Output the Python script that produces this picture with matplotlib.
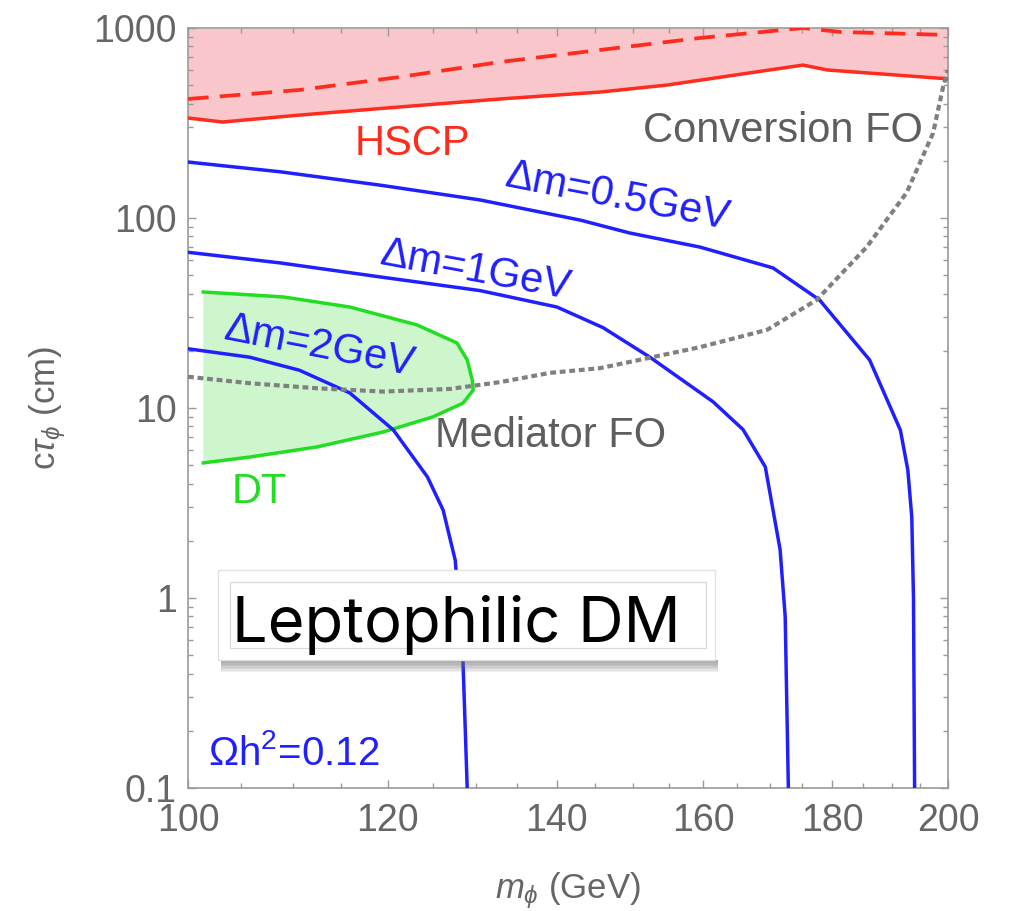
import matplotlib
matplotlib.use("Agg")
import matplotlib.pyplot as plt
from matplotlib.patches import Rectangle
from matplotlib.ticker import FixedLocator, FixedFormatter, NullFormatter

plt.rcParams['font.family'] = ['Liberation Sans', 'DejaVu Sans']
plt.rcParams['mathtext.fontset'] = 'custom'
plt.rcParams['mathtext.rm'] = 'Liberation Sans'
plt.rcParams['mathtext.it'] = 'Liberation Sans:italic'

# ---------------- data ----------------
hscp_x = [100, 103.2, 110.7, 121.3, 132.9, 145.6, 154.8, 175.2, 179.2, 200]
hscp_solid = [336, 320, 348, 384, 423, 460, 501, 638, 601, 540]
hscp_dash_x = [100, 110.7, 121.3, 132.9, 145.6, 159.5, 175.2, 181.3, 200]
hscp_dash = [423, 472, 552, 662, 766, 886, 1000, 953, 919]

dm05_x = [100, 108.8, 119.1, 130.5, 143.0, 149.6, 159.5, 170.5, 177.9, 186.2, 191.5, 192.8, 193.5, 193.8, 194.0]
dm05_y = [197, 175, 149, 124.5, 97.5, 83.4, 70.3, 54.6, 37, 17.9, 7.65, 4.72, 2.67, 1.0, 0.1]

dm1_x = [100, 108.8, 119.1, 130.5, 140.0, 146.0, 152.4, 161.4, 165.9, 169.3, 171.6, 172.4, 172.9]
dm1_y = [66, 58, 49, 41.5, 34, 26.5, 18.5, 10.8, 7.7, 4.9, 1.8, 0.8, 0.1]

dm2_x = [100, 105.8, 110.7, 115.9, 120.6, 124.4, 126.2, 127.6, 128.5, 129.0]
dm2_y = [20.5, 18.5, 15.8, 12.0, 7.66, 4.34, 2.9, 1.58, 0.47, 0.1]

dt_x = [101.4, 109.1, 115.9, 123.2, 127.8, 129.0, 129.6, 129.7, 128.5, 125.0, 119.5, 112.5, 105.8, 101.4]
dt_y = [40.8, 38.4, 34.0, 27.4, 22.0, 17.9, 14.0, 12.4, 10.6, 8.97, 7.48, 6.24, 5.52, 5.14]

fo_x = [100, 105.8, 112.5, 119.5, 127.0, 133.0, 139.1, 145.6, 159.5, 169.6, 177.4, 185.7, 192.6, 197.3, 199.1, 200]
fo_y = [14.6, 13.5, 12.7, 12.2, 12.6, 13.7, 15.3, 16.2, 20.9, 25.8, 37, 70.3, 136, 280, 489, 600]

x_ticks = [100, 120, 140, 160, 180, 200]
x_minor = [105, 110, 115, 125, 130, 135, 145, 150, 155, 165, 170, 175, 185, 190, 195]
y_ticks = [0.1, 1, 10, 100, 1000]
y_labels = ['0.1', '1', '10', '100', '1000']

# ---------------- colours ----------------
RED = '#ff2b1c'
PINK = '#f9c6cb'
BLUE = '#1f1fff'
GREEN = '#22dd22'
LGREEN = '#cdf6cd'
GRAYD = '#808080'
TXT = '#666666'

fig = plt.figure(figsize=(10.1, 9.11), dpi=100)
ax = fig.add_axes([0.18614, 0.13502, 0.75248, 0.83425])
ax.set_xscale('log')
ax.set_yscale('log')
ax.set_xlim(100, 200)
ax.set_ylim(0.1, 1000)

# HSCP region
ax.fill_between(hscp_x, hscp_solid, 1000, color=PINK, lw=0, zorder=1)
ax.plot(hscp_x, hscp_solid, color=RED, lw=2.5, zorder=3, solid_joinstyle='round')
ax.plot(hscp_dash_x, hscp_dash, color=RED, lw=2.7, dashes=(5.5, 3.0), zorder=3)

# DT region
ax.fill(dt_x, dt_y, color=LGREEN, lw=0, zorder=1)
ax.plot(dt_x, dt_y, color=GREEN, lw=2.5, zorder=3, solid_joinstyle='round')

# relic lines
for xs, ys in [(dm05_x, dm05_y), (dm1_x, dm1_y), (dm2_x, dm2_y)]:
    ax.plot(xs, ys, color=BLUE, lw=2.5, zorder=4, solid_joinstyle='round')

# freeze-out line
ax.plot(fo_x, fo_y, color=GRAYD, lw=3.0, dashes=(1.4, 0.9), zorder=4)

# axes styling
for s in ax.spines.values():
    s.set_color('#9a9a9a')
    s.set_linewidth(1.2)
ax.xaxis.set_major_locator(FixedLocator(x_ticks))
ax.xaxis.set_major_formatter(FixedFormatter([str(v) for v in x_ticks]))
ax.xaxis.set_minor_locator(FixedLocator(x_minor))
ax.xaxis.set_minor_formatter(NullFormatter())
ax.yaxis.set_major_locator(FixedLocator(y_ticks))
ax.yaxis.set_major_formatter(FixedFormatter(y_labels))
ax.tick_params(which='both', direction='in', top=True, right=True, color='#9a9a9a',
               width=1.0, labelcolor=TXT, labelsize=27)
ax.tick_params(which='major', length=6)
ax.tick_params(which='minor', length=3.8)
ax.tick_params(axis='x', pad=11)
ax.tick_params(axis='y', pad=8)

ax.set_xlabel(r'$m_{\phi}$ (GeV)', fontsize=25, color=TXT)
ax.set_ylabel(r'c$\tau_{\phi}$ (cm)', fontsize=25, color=TXT)
ax.xaxis.set_label_coords(0.5, -0.108)
ax.yaxis.set_label_coords(-0.158, 0.5)

# annotations
T = ax.transAxes
ax.text(0.2947, 0.8329, 'HSCP', color=RED, fontsize=30, ha='center', va='baseline', transform=T, zorder=6)
ax.text(0.7829, 0.85, 'Conversion FO', color='#5e5e5e', fontsize=30, ha='center', va='baseline', transform=T, zorder=6)
ax.text(0.3250, 0.4487, 'Mediator FO', color='#5e5e5e', fontsize=30, ha='left', va='baseline', transform=T, zorder=6)
ax.text(0.0579, 0.375, 'DT', color=GREEN, fontsize=30, ha='left', va='baseline', transform=T, zorder=6)
ax.text(0.5658, 0.7776, 'Δm=0.5GeV', color=BLUE, fontsize=30, ha='center', va='center',
        rotation=-11, rotation_mode='anchor', transform=T, zorder=6)
ax.text(0.3789, 0.6802, 'Δm=1GeV', color=BLUE, fontsize=30, ha='center', va='center',
        rotation=-10.5, rotation_mode='anchor', transform=T, zorder=6)
ax.text(0.1737, 0.5803, 'Δm=2GeV', color=BLUE, fontsize=30, ha='center', va='center',
        rotation=-11, rotation_mode='anchor', transform=T, zorder=6)
ax.text(0.0263, 0.0303, r'$\Omega$h$^2$=0.12', color=BLUE, fontsize=29, ha='left', va='baseline',
        transform=T, zorder=6)

# Leptophilic DM box with shadow
x0, x1 = 0.0395, 0.693
y0, y1 = 0.168, 0.287
nsh = 8
for i in range(nsh):
    h = 0.016 * (nsh - i) / nsh
    ax.add_patch(Rectangle((x0 + 0.004, y0 - h), (x1 - x0), h, transform=T,
                           facecolor='#707070', alpha=0.10, lw=0, zorder=7))
ax.add_patch(Rectangle((x0, y0), x1 - x0, y1 - y0, transform=T, facecolor='white',
                       edgecolor='#e2e2e2', lw=1.0, zorder=8))
ax.add_patch(Rectangle((0.0553, 0.1842), 0.6263, 0.0869, transform=T, facecolor='none',
                       edgecolor='#d9d9d9', lw=0.9, zorder=9))
ax.text(0.3525, 0.192, 'Leptophilic DM', family='Inter', fontsize=45.5, color='black',
        ha='center', va='baseline', transform=T, zorder=10)

fig.savefig('out.png', dpi=100)
